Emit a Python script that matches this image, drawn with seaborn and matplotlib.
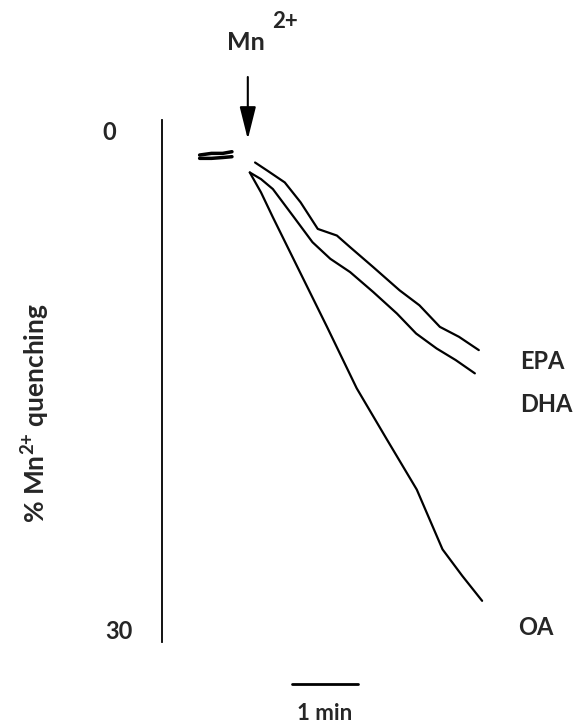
import pandas as pd
import matplotlib
matplotlib.use("Agg")
import matplotlib.pyplot as plt
import seaborn as sns

# tiempos (min, 0 = adición de Mn2+) y % de quenching
epa_t = [0.11, 0.30, 0.56, 0.80, 1.06, 1.35, 1.55, 1.90, 2.30, 2.60, 2.91, 3.20, 3.50]
epa_y = [1.9, 2.4, 3.1, 4.3, 5.9, 6.3, 7.0, 8.2, 9.6, 10.5, 11.8, 12.4, 13.2]
dha_t = [0.03, 0.20, 0.38, 0.70, 0.98, 1.25, 1.55, 1.90, 2.26, 2.55, 2.86, 3.15, 3.44]
dha_y = [2.5, 2.9, 3.5, 5.2, 6.7, 7.7, 8.5, 9.7, 11.0, 12.2, 13.1, 13.8, 14.6]
oa_t = [0.03, 0.20, 0.38, 0.79, 1.20, 1.65, 2.11, 2.56, 2.95, 3.25, 3.55]
oa_y = [2.5, 3.7, 5.2, 8.5, 11.8, 15.5, 18.6, 21.6, 25.2, 26.8, 28.3]
base_t = [-0.73, -0.55, -0.38, -0.24]
base_y1 = [1.45, 1.35, 1.35, 1.25]
base_y2 = [1.65, 1.65, 1.6, 1.55]

df = pd.concat([
    pd.DataFrame({"t": epa_t, "q": epa_y, "serie": "EPA"}),
    pd.DataFrame({"t": dha_t, "q": dha_y, "serie": "DHA"}),
    pd.DataFrame({"t": oa_t, "q": oa_y, "serie": "OA"}),
])

sns.set_style("white")
plt.rcParams["font.family"] = ["Lato", "DejaVu Sans"]
plt.rcParams["font.weight"] = "bold"
plt.rcParams["mathtext.default"] = "regular"
FS = 17

fig = plt.figure(figsize=(5.78, 7.25), dpi=100)
# eje: x 162..560 px, y 120..642 px
ax = fig.add_axes([162 / 578, 1 - 642 / 725, 398 / 578, 522 / 725])

sns.lineplot(data=df, x="t", y="q", hue="serie", sort=False,
             palette={"EPA": "black", "DHA": "black", "OA": "black"},
             linewidth=1.6, legend=False, ax=ax)
ax.plot(base_t, base_y1, color="black", lw=2.5)
ax.plot(base_t, base_y2, color="black", lw=2.5)

ax.set_xlim(-1.30, 4.73)
ax.set_ylim(30.78, -0.66)
ax.set_xticks([])
ax.set_yticks([0, 30])
ax.set_yticklabels(["0", "30"], fontsize=FS, fontweight="bold", ha="center")
ax.tick_params(axis="y", length=0)
ticks = ax.yaxis.get_major_ticks()
ticks[0].set_pad(38)
ticks[1].set_pad(31)
for s in ["top", "right", "bottom"]:
    ax.spines[s].set_visible(False)
ax.spines["left"].set_linewidth(1.3)
ax.spines["left"].set_color("black")
ax.set_xlabel("")
ax.set_ylabel("")

# etiquetas de las curvas
ax.text(4.12, 13.9, "EPA", fontsize=FS, fontweight="bold", va="center")
ax.text(4.12, 16.5, "DHA", fontsize=FS, fontweight="bold", va="center")
ax.text(4.10, 29.9, "OA", fontsize=FS, fontweight="bold", va="center")

# flecha Mn2+
ax.annotate("", xy=(0, 0.5), xytext=(0, -3.25), annotation_clip=False,
            arrowprops=dict(arrowstyle="-|>,head_length=2.0,head_width=0.5",
                            color="black", lw=1.5, shrinkA=0, shrinkB=0))
ax.text(-0.03, -5.3, "Mn", fontsize=FS + 1, fontweight="bold", ha="center", va="center")
ax.text(0.57, -6.6, "2+", fontsize=FS - 1, fontweight="bold", ha="center", va="center")

# barra de escala
ax.plot([0.667, 1.667], [33.3, 33.3], color="black", lw=2, clip_on=False)
ax.text(1.17, 35.1, "1 min", fontsize=FS - 1, fontweight="bold", ha="center", va="center")

fig.text(36 / 578, 1 - 413 / 725, "% Mn$^{2{+}}$ quenching", rotation=90,
         fontsize=FS + 2, fontweight="bold", ha="center", va="center")

plt.savefig("out.png", dpi=100)
